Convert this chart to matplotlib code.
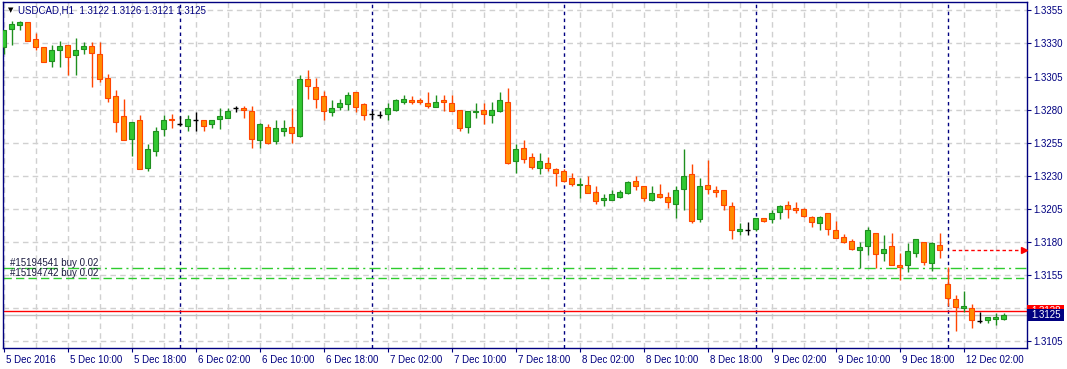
import matplotlib
matplotlib.use("Agg")
import matplotlib.pyplot as plt
import matplotlib.transforms as mtransforms
from matplotlib.patches import Rectangle
import numpy as np

plt.rcParams['font.family'] = ['Liberation Sans', 'DejaVu Sans']

# USDCAD H1, first bar 5 Dec 02:00, last bar 12 Dec 07:00
symbol = "USDCAD,H1"
opens = [1.3327, 1.3341, 1.3344, 1.3346, 1.3333, 1.3327, 1.3317, 1.3325, 1.3329, 1.3321,
         1.3326, 1.3328, 1.3322, 1.3304, 1.3290, 1.3275, 1.3258, 1.3272, 1.3236, 1.3249,
         1.3265, 1.3273, 1.3269, 1.3268, 1.3272, 1.3272, 1.3269, 1.3273, 1.3274, 1.3281,
         1.3281, 1.3279, 1.3257, 1.3267, 1.3256, 1.3264, 1.3267, 1.3260, 1.3303, 1.3297,
         1.3290, 1.3278, 1.3282, 1.3284, 1.3293, 1.3284, 1.3277, 1.3276, 1.3277, 1.3280,
         1.3286, 1.3287, 1.3287, 1.3285, 1.3282, 1.3287, 1.3285, 1.3280, 1.3267, 1.3278,
         1.3280, 1.3276, 1.3279, 1.3286, 1.3241, 1.3251, 1.3244, 1.3236, 1.3240, 1.3235,
         1.3234, 1.3228, 1.3223, 1.3223, 1.3218, 1.3212, 1.3212, 1.3214, 1.3217, 1.3226,
         1.3222, 1.3212, 1.3216, 1.3214, 1.3209, 1.3220, 1.3231, 1.3197, 1.3223, 1.3219,
         1.3219, 1.3207, 1.3188, 1.3189, 1.3190, 1.3198, 1.3197, 1.3203, 1.3208, 1.3206,
         1.3205, 1.3199, 1.3194, 1.3202, 1.3189, 1.3184, 1.3181, 1.3174, 1.3177, 1.3187,
         1.3172, 1.3177, 1.3163, 1.3163, 1.3172, 1.3180, 1.3164, 1.3178, 1.3148, 1.3137,
         1.3130, 1.3130, 1.3120, 1.3121, 1.3122, 1.3122]
highs = [1.3340, 1.3347, 1.3347, 1.3346, 1.3338, 1.3327, 1.3329, 1.3332, 1.3329, 1.3334,
         1.3331, 1.3331, 1.3331, 1.3307, 1.3295, 1.3288, 1.3271, 1.3276, 1.3254, 1.3267,
         1.3276, 1.3277, 1.3275, 1.3276, 1.3278, 1.3272, 1.3272, 1.3281, 1.3281, 1.3283,
         1.3283, 1.3283, 1.3270, 1.3269, 1.3272, 1.3272, 1.3281, 1.3306, 1.3310, 1.3304,
         1.3294, 1.3287, 1.3288, 1.3293, 1.3293, 1.3285, 1.3280, 1.3279, 1.3285, 1.3288,
         1.3291, 1.3290, 1.3289, 1.3293, 1.3291, 1.3291, 1.3291, 1.3280, 1.3279, 1.3285,
         1.3285, 1.3286, 1.3293, 1.3296, 1.3254, 1.3257, 1.3247, 1.3247, 1.3244, 1.3236,
         1.3235, 1.3232, 1.3228, 1.3230, 1.3222, 1.3216, 1.3219, 1.3219, 1.3226, 1.3230,
         1.3222, 1.3222, 1.3224, 1.3218, 1.3222, 1.3250, 1.3239, 1.3228, 1.3242, 1.3222,
         1.3219, 1.3210, 1.3194, 1.3195, 1.3198, 1.3198, 1.3204, 1.3208, 1.3211, 1.3210,
         1.3206, 1.3200, 1.3200, 1.3202, 1.3196, 1.3186, 1.3182, 1.3180, 1.3191, 1.3187,
         1.3185, 1.3187, 1.3172, 1.3179, 1.3182, 1.3180, 1.3180, 1.3187, 1.3161, 1.3140,
         1.3143, 1.3133, 1.3127, 1.3123, 1.3126, 1.3126]
lows = [1.3322, 1.3329, 1.3340, 1.3332, 1.3325, 1.3316, 1.3312, 1.3312, 1.3306, 1.3306,
        1.3322, 1.3297, 1.3301, 1.3286, 1.3263, 1.3257, 1.3245, 1.3235, 1.3234, 1.3245,
        1.3260, 1.3266, 1.3268, 1.3264, 1.3264, 1.3264, 1.3266, 1.3265, 1.3274, 1.3278,
        1.3274, 1.3251, 1.3251, 1.3254, 1.3254, 1.3260, 1.3255, 1.3259, 1.3288, 1.3281,
        1.3272, 1.3275, 1.3280, 1.3280, 1.3278, 1.3272, 1.3272, 1.3274, 1.3272, 1.3279,
        1.3284, 1.3284, 1.3284, 1.3281, 1.3282, 1.3279, 1.3279, 1.3264, 1.3262, 1.3274,
        1.3269, 1.3270, 1.3278, 1.3239, 1.3232, 1.3240, 1.3235, 1.3231, 1.3234, 1.3222,
        1.3225, 1.3222, 1.3213, 1.3217, 1.3209, 1.3207, 1.3212, 1.3213, 1.3216, 1.3219,
        1.3211, 1.3211, 1.3213, 1.3206, 1.3198, 1.3204, 1.3194, 1.3195, 1.3216, 1.3214,
        1.3204, 1.3182, 1.3185, 1.3185, 1.3188, 1.3195, 1.3194, 1.3197, 1.3198, 1.3202,
        1.3199, 1.3191, 1.3189, 1.3185, 1.3183, 1.3179, 1.3174, 1.3160, 1.3170, 1.3160,
        1.3166, 1.3163, 1.3151, 1.3157, 1.3169, 1.3163, 1.3158, 1.3168, 1.3132, 1.3113,
        1.3127, 1.3115, 1.3119, 1.3119, 1.3117, 1.3121]
closes = [1.3340, 1.3345, 1.3346, 1.3332, 1.3327, 1.3316, 1.3325, 1.3328, 1.3320, 1.3325,
          1.3328, 1.3323, 1.3303, 1.3289, 1.3271, 1.3257, 1.3271, 1.3235, 1.3250, 1.3264,
          1.3272, 1.3272, 1.3269, 1.3273, 1.3272, 1.3268, 1.3272, 1.3275, 1.3279, 1.3281,
          1.3280, 1.3258, 1.3269, 1.3255, 1.3266, 1.3266, 1.3262, 1.3303, 1.3298, 1.3288,
          1.3279, 1.3281, 1.3285, 1.3291, 1.3282, 1.3276, 1.3277, 1.3276, 1.3281, 1.3287,
          1.3288, 1.3286, 1.3286, 1.3283, 1.3286, 1.3286, 1.3279, 1.3266, 1.3279, 1.3279,
          1.3277, 1.3280, 1.3287, 1.3240, 1.3250, 1.3243, 1.3237, 1.3241, 1.3236, 1.3232,
          1.3226, 1.3224, 1.3224, 1.3217, 1.3211, 1.3213, 1.3216, 1.3218, 1.3225, 1.3222,
          1.3213, 1.3217, 1.3214, 1.3210, 1.3219, 1.3230, 1.3196, 1.3222, 1.3220, 1.3218,
          1.3208, 1.3189, 1.3190, 1.3189, 1.3198, 1.3196, 1.3202, 1.3207, 1.3205, 1.3204,
          1.3200, 1.3195, 1.3199, 1.3190, 1.3183, 1.3180, 1.3175, 1.3176, 1.3189, 1.3171,
          1.3175, 1.3163, 1.3161, 1.3173, 1.3182, 1.3165, 1.3179, 1.3174, 1.3138, 1.3131,
          1.3132, 1.3121, 1.3120, 1.3123, 1.3123, 1.3125]

time_labels = ["5 Dec 2016", "5 Dec 10:00", "5 Dec 18:00", "6 Dec 02:00", "6 Dec 10:00",
               "6 Dec 18:00", "7 Dec 02:00", "7 Dec 10:00", "7 Dec 18:00", "8 Dec 02:00",
               "8 Dec 10:00", "8 Dec 18:00", "9 Dec 02:00", "9 Dec 10:00", "9 Dec 18:00",
               "12 Dec 02:00"]
day_breaks = [22, 46, 70, 94, 118]   # bar index of each new day
price_ticks = [1.3105, 1.3130, 1.3155, 1.3180, 1.3205, 1.3230, 1.3255, 1.3280, 1.3305, 1.3330, 1.3355]

order_names = ["#15194541 buy 0.02", "#15194742 buy 0.02"]
order_prices = [1.3160, 1.3153]
bid = 1.3125
ask = 1.3128
alert_price = 1.3174

NAVY = '#000080'
W, H = 1067, 369

fig = plt.figure(figsize=(W / 100, H / 100), dpi=100)
ax = fig.add_axes([2.7 / W, 1 - 348.3 / H, 1024 / W, 346.3 / H])

o = np.array(opens)
h = np.array(highs)
l = np.array(lows)
c = np.array(closes)
x = np.arange(len(o))
up = c > o
dn = c < o
flat = c == o
bw = 0.6

# 꼬리 (wicks)
ax.vlines(x[up], l[up], h[up], color='#1f8f1f', lw=1.0, zorder=3)
ax.vlines(x[dn], l[dn], h[dn], color='#ff4500', lw=1.0, zorder=3)
ax.vlines(x[flat], l[flat], h[flat], color='black', lw=1.0, zorder=3)
ax.hlines(o[flat], x[flat] - bw / 2, x[flat] + bw / 2, color='black', lw=1.0, zorder=3)

# 몸통 (bodies)
ax.bar(x[up], c[up] - o[up], bottom=o[up], width=bw, color='#32c832',
       edgecolor='#1f8f1f', linewidth=0.8, zorder=4)
ax.bar(x[dn], o[dn] - c[dn], bottom=c[dn], width=bw, color='#ff8c00',
       edgecolor='#ff4500', linewidth=0.8, zorder=4)

# day separators
for d in day_breaks:
    ax.axvline(d, color=NAVY, lw=1.0, linestyle=(0, (2.5, 2.5)), zorder=2)

# order lines
ax.axhline(order_prices[0], color='#2ecc2e', lw=1.0, linestyle=(0, (8, 3, 1.5, 3)), zorder=2)
ax.axhline(order_prices[1], color='#2ecc2e', lw=1.0, linestyle=(0, (6, 3)), zorder=2)
for name, p in zip(order_names, order_prices):
    ax.annotate(name, (0.8, p), xytext=(0, 1.5), textcoords='offset points',
                va='baseline', ha='left', fontsize=7, color='#1c1c40', zorder=5)

# bid / ask
ax.axhline(bid, color='#c0c0c0', lw=1.0, zorder=2)
ax.axhline(ask, color='red', lw=1.0, zorder=2)

# alert arrow
ax.plot([118.5, 127.6], [alert_price, alert_price], color='red', lw=1.0,
        linestyle=(0, (2.5, 2)), zorder=3, clip_on=False)
ax.plot([127.6], [alert_price], marker='>', color='red', markersize=4.5, zorder=3, clip_on=False)

ax.set_xlim(-0.1, 127.9)
ax.set_ylim(1.30997, 1.33613)

# grid
ax.set_xticks(np.arange(0, len(o), 8))
ax.set_xticklabels(time_labels)
ax.set_xticks(np.arange(4, len(o), 8), minor=True)
ax.set_yticks(price_ticks)
# 1.3130 sits under the price boxes, so its label is left empty
ax.set_yticklabels(['' if abs(p - ask) < 0.0004 else '%.4f' % p for p in price_ticks])
ax.grid(which='both', color='#d0d0d0', lw=1.0, linestyle=(0, (4, 3)))
ax.set_axisbelow(True)

ax.yaxis.tick_right()
ax.tick_params(axis='both', which='major', direction='out', length=3, width=0.8,
               color=NAVY, labelcolor=NAVY, labelsize=7)
ax.tick_params(axis='x', which='major', pad=2)
ax.tick_params(axis='y', which='major', pad=2)
ax.tick_params(axis='x', which='minor', length=0)
shift = mtransforms.ScaledTranslation(1.5 / 72, 0, fig.dpi_scale_trans)
for lab in ax.get_xticklabels():
    lab.set_ha('left')
    lab.set_transform(lab.get_transform() + shift)

for sp in ax.spines.values():
    sp.set_color(NAVY)
    sp.set_linewidth(1.0)

# price boxes on the right scale
blend = mtransforms.blended_transform_factory(ax.transAxes, ax.transData)
box_w = 37 / 1024
box_h = 12 / 33.1 * 0.0025
for price, col, z in [(ask, 'red', 6), (bid, NAVY, 7)]:
    ax.add_patch(Rectangle((1.0005, price - box_h / 2), box_w, box_h, transform=blend,
                           fc=col, ec='none', clip_on=False, zorder=z))
    ax.text(1.0005 + box_w / 2, price, '%.4f' % price, transform=blend, ha='center',
            va='center', fontsize=7, color='white', clip_on=False, zorder=z)

# header
fig.text(10.5 / W, 1 - 10.5 / H, '\u25bc', fontsize=5, ha='center', va='center',
         color='black', family='DejaVu Sans')
fig.text(18 / W, 1 - 10.5 / H, symbol + '  1.3122 1.3126 1.3121 1.3125', fontsize=7,
         ha='left', va='center', color=NAVY)

fig.savefig('out.png', dpi=100, facecolor='white')
